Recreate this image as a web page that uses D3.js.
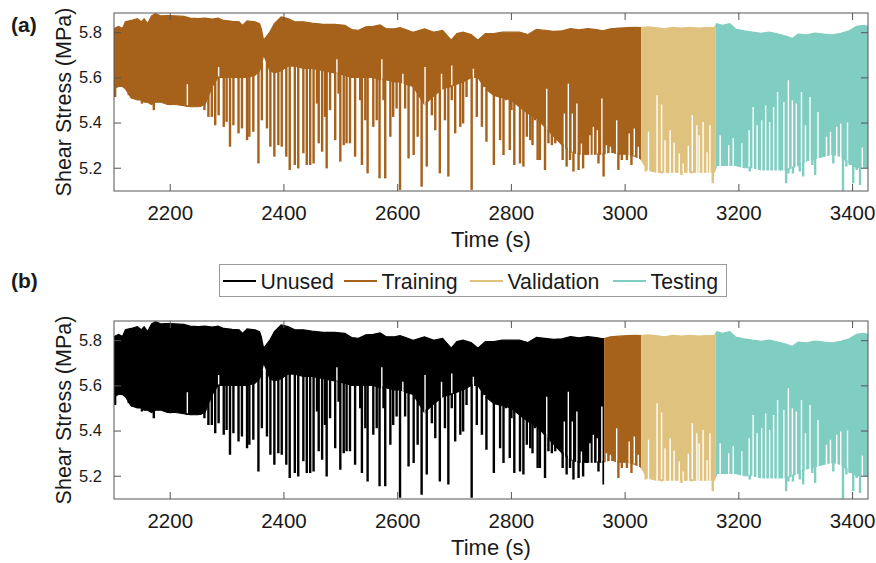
<!DOCTYPE html>
<html>
<head>
<meta charset="utf-8">
<script src="https://cdn.jsdelivr.net/npm/d3@7"></script>
<style>
  body { margin: 0; background: #fff; }
  svg text { font-family: "Liberation Sans", Arial, Helvetica, sans-serif; fill: #1a1a1a; }
</style>
</head>
<body>
<div id="chart"></div>
<script>
const WIDTH = 876
const HEIGHT = 563

// dense stick-slip signal read as a band: time (s), top edge and solid floor (MPa)
const envTime = [
  2102, 2110, 2117, 2122, 2132, 2143, 2150, 2155, 2161, 2168,
  2175, 2185, 2196, 2210, 2225, 2236, 2250, 2262, 2275, 2285,
  2295, 2310, 2322, 2328, 2336, 2350, 2358, 2361, 2365, 2370,
  2376, 2384, 2396, 2408, 2420, 2435, 2450, 2470, 2490, 2508,
  2520, 2532, 2545, 2558, 2570, 2580, 2595, 2605, 2615, 2628,
  2648, 2665, 2680, 2695, 2705, 2716, 2730, 2742, 2755, 2770,
  2785, 2800, 2815, 2830, 2845, 2860, 2875, 2890, 2905, 2920,
  2935, 2950, 2962, 2975, 2990, 3005, 3018, 3028, 3040, 3055,
  3070, 3085, 3100, 3115, 3130, 3145, 3158, 3162, 3172, 3185,
  3195, 3210, 3225, 3240, 3255, 3270, 3285, 3295, 3305, 3320,
  3335, 3350, 3365, 3380, 3395, 3408, 3420, 3428,
]
const envUpper = [
  5.816, 5.826, 5.816, 5.846, 5.852, 5.860, 5.846, 5.860, 5.838, 5.872,
  5.882, 5.872, 5.874, 5.872, 5.870, 5.862, 5.860, 5.862, 5.858, 5.862,
  5.852, 5.848, 5.846, 5.830, 5.850, 5.846, 5.838, 5.816, 5.765, 5.780,
  5.800, 5.838, 5.868, 5.860, 5.846, 5.846, 5.840, 5.835, 5.835, 5.830,
  5.812, 5.808, 5.824, 5.826, 5.832, 5.816, 5.815, 5.820, 5.812, 5.800,
  5.815, 5.800, 5.808, 5.765, 5.794, 5.800, 5.790, 5.765, 5.794, 5.794,
  5.800, 5.800, 5.800, 5.790, 5.812, 5.808, 5.804, 5.806, 5.816, 5.810,
  5.816, 5.812, 5.806, 5.815, 5.818, 5.820, 5.822, 5.820, 5.824, 5.820,
  5.815, 5.822, 5.818, 5.822, 5.818, 5.820, 5.822, 5.838, 5.830, 5.838,
  5.814, 5.806, 5.800, 5.795, 5.800, 5.792, 5.782, 5.772, 5.792, 5.788,
  5.796, 5.792, 5.788, 5.795, 5.806, 5.826, 5.830, 5.826,
]
const envFloor = [
  5.55, 5.56, 5.56, 5.55, 5.51, 5.50, 5.50, 5.49, 5.49, 5.48,
  5.49, 5.49, 5.48, 5.48, 5.475, 5.47, 5.47, 5.48, 5.56, 5.60,
  5.60, 5.60, 5.60, 5.60, 5.60, 5.61, 5.63, 5.65, 5.70, 5.67,
  5.63, 5.62, 5.63, 5.65, 5.65, 5.64, 5.64, 5.63, 5.62, 5.61,
  5.60, 5.60, 5.60, 5.60, 5.59, 5.59, 5.58, 5.58, 5.57, 5.56,
  5.48, 5.52, 5.55, 5.56, 5.57, 5.58, 5.60, 5.60, 5.55, 5.52,
  5.51, 5.50, 5.47, 5.44, 5.42, 5.38, 5.34, 5.30, 5.27, 5.26,
  5.26, 5.26, 5.26, 5.27, 5.26, 5.26, 5.25, 5.24, 5.19, 5.18,
  5.18, 5.18, 5.18, 5.18, 5.18, 5.18, 5.18, 5.21, 5.21, 5.21,
  5.21, 5.20, 5.20, 5.19, 5.19, 5.19, 5.19, 5.20, 5.21, 5.23,
  5.24, 5.25, 5.26, 5.25, 5.22, 5.20, 5.20, 5.20,
]

// slip events that drop below the floor: time (s), lowest stress (MPa)
const spikeTime = [
  2104, 2125, 2128, 2134, 2142, 2151, 2160, 2172, 2180, 2189,
  2201, 2210, 2221, 2230, 2245, 2254, 2261, 2268, 2274, 2280,
  2286, 2295, 2300, 2306, 2312, 2321, 2327, 2336, 2340, 2347,
  2356, 2362, 2371, 2377, 2384, 2391, 2397, 2405, 2411, 2420,
  2426, 2435, 2441, 2447, 2453, 2459, 2462, 2468, 2473, 2476,
  2482, 2491, 2497, 2500, 2506, 2511, 2517, 2526, 2535, 2538,
  2544, 2548, 2558, 2564, 2569, 2576, 2579, 2588, 2593, 2599,
  2605, 2614, 2620, 2629, 2636, 2643, 2652, 2661, 2667, 2675,
  2684, 2690, 2696, 2702, 2711, 2716, 2722, 2731, 2740, 2749,
  2757, 2763, 2770, 2775, 2781, 2787, 2791, 2798, 2801, 2806,
  2810, 2816, 2822, 2828, 2834, 2838, 2842, 2847, 2851, 2857,
  2860, 2866, 2872, 2878, 2883, 2891, 2895, 2898, 2904, 2910,
  2916, 2919, 2927, 2933, 2942, 2948, 2954, 2963, 2974, 2979,
  2986, 2989, 2995, 3004, 3008, 3012, 3018, 3024, 3033, 3037,
  3045, 3052, 3065, 3073, 3077, 3083, 3089, 3094, 3100, 3106,
  3112, 3118, 3124, 3130, 3135, 3141, 3147, 3153, 3155, 3159,
  3163, 3168, 3173, 3179, 3185, 3191, 3197, 3203, 3209, 3214,
  3220, 3225, 3229, 3235, 3241, 3244, 3250, 3255, 3258, 3264,
  3270, 3276, 3280, 3284, 3288, 3291, 3296, 3302, 3308, 3311,
  3314, 3320, 3326, 3330, 3335, 3340, 3346, 3355, 3361, 3367,
  3373, 3378, 3384, 3390, 3396, 3402, 3408, 3414, 3418, 3422,
]
const spikeMin = [
  5.513, 5.572, 5.521, 5.506, 5.513, 5.484, 5.506, 5.455, 5.499, 5.491,
  5.477, 5.484, 5.477, 5.469, 5.477, 5.469, 5.455, 5.425, 5.425, 5.388,
  5.432, 5.381, 5.403, 5.293, 5.388, 5.352, 5.374, 5.322, 5.337, 5.359,
  5.219, 5.410, 5.374, 5.293, 5.249, 5.300, 5.293, 5.249, 5.190, 5.212,
  5.197, 5.264, 5.212, 5.212, 5.219, 5.484, 5.308, 5.271, 5.425, 5.197,
  5.455, 5.322, 5.528, 5.227, 5.300, 5.308, 5.308, 5.249, 5.499, 5.212,
  5.410, 5.175, 5.381, 5.410, 5.153, 5.499, 5.153, 5.337, 5.425, 5.462,
  5.102, 5.462, 5.241, 5.256, 5.337, 5.116, 5.205, 5.432, 5.366, 5.175,
  5.410, 5.161, 5.499, 5.352, 5.381, 5.396, 5.513, 5.102, 5.425, 5.381,
  5.315, 5.543, 5.212, 5.550, 5.322, 5.256, 5.499, 5.278, 5.455, 5.212,
  5.513, 5.219, 5.205, 5.337, 5.322, 5.300, 5.410, 5.234, 5.234, 5.455,
  5.190, 5.308, 5.300, 5.308, 5.337, 5.234, 5.440, 5.205, 5.234, 5.183,
  5.484, 5.190, 5.197, 5.256, 5.352, 5.337, 5.219, 5.161, 5.293, 5.330,
  5.322, 5.190, 5.234, 5.234, 5.352, 5.212, 5.249, 5.249, 5.249, 5.183,
  5.219, 5.234, 5.175, 5.322, 5.183, 5.366, 5.308, 5.219, 5.168, 5.219,
  5.293, 5.175, 5.183, 5.381, 5.183, 5.396, 5.205, 5.308, 5.131, 5.219,
  5.293, 5.219, 5.212, 5.219, 5.234, 5.322, 5.219, 5.249, 5.219, 5.322,
  5.183, 5.469, 5.227, 5.219, 5.410, 5.190, 5.190, 5.469, 5.234, 5.352,
  5.205, 5.249, 5.491, 5.131, 5.175, 5.499, 5.175, 5.484, 5.183, 5.543,
  5.161, 5.352, 5.264, 5.212, 5.168, 5.447, 5.256, 5.264, 5.337, 5.219,
  5.381, 5.293, 5.098, 5.205, 5.212, 5.131, 5.190, 5.124, 5.293, 5.234,
]

// long quiet cycles that leave a white gap in the band: time (s), top of gap (MPa)
const gapTime = [
  2231, 2286, 2494, 2573, 2610, 2649, 2678, 2696, 2734, 2754,
  2863, 2894, 2901, 2908, 2916, 2924, 2939, 2945, 2952, 2960,
  2968, 2975, 2986, 3008, 3017, 3024, 3042, 3057, 3065, 3071,
  3080, 3087, 3096, 3103, 3112, 3119, 3127, 3131, 3138, 3145,
  3150, 3168, 3183, 3191, 3206, 3219, 3226, 3233, 3241, 3248,
  3255, 3262, 3269, 3280, 3288, 3295, 3302, 3311, 3318, 3326,
  3340, 3355, 3362, 3373, 3380, 3392, 3418,
]
const gapTop = [
  5.570, 5.646, 5.680, 5.680, 5.616, 5.646, 5.616, 5.653, 5.638, 5.557,
  5.550, 5.440, 5.572, 5.440, 5.484, 5.307, 5.344, 5.381, 5.366, 5.506,
  5.300, 5.293, 5.410, 5.352, 5.374, 5.293, 5.359, 5.521, 5.480, 5.322,
  5.366, 5.312, 5.263, 5.219, 5.297, 5.432, 5.388, 5.344, 5.403, 5.268,
  5.388, 5.344, 5.300, 5.330, 5.308, 5.366, 5.469, 5.388, 5.410, 5.476,
  5.403, 5.469, 5.535, 5.491, 5.587, 5.499, 5.484, 5.535, 5.388, 5.513,
  5.447, 5.337, 5.359, 5.381, 5.396, 5.400, 5.290,
]

const timeTicks = [2200, 2400, 2600, 2800, 3000, 3200, 3400]
const stressTicks = [5.2, 5.4, 5.6, 5.8]
const timeDomain = [2102, 3428]
const stressDomain = [5.097, 5.885]

const seriesNames = ['Unused', 'Training', 'Validation', 'Testing']
// series i covers [split[i], split[i + 1])
const splitA = [2102, 2102, 3029, 3160, 3428]
const splitB = [2102, 2964, 3029, 3160, 3428]

const COLORS = ['#000000', '#A6611A', '#DFC27D', '#80CDC1']
const PLOT = { left: 114, right: 868, height: 178 }
const PANEL_TOPS = [13, 321]
const LEGEND_X = [223, 344, 470, 613]

const x = d3.scaleLinear().domain(timeDomain).range([PLOT.left, PLOT.right])
const y = d3.scaleLinear().domain(stressDomain).range([PLOT.height, 0])
const floorAt = d3.scaleLinear().domain(envTime).range(envFloor)

function defineSVG (selector) {
  return d3.select(selector)
    .append('svg')
    .attr('width', WIDTH)
    .attr('height', HEIGHT)
}

function drawSignal (params) {
  const { g, split, id } = params
  const idx = d3.range(envTime.length)
  const area = d3.area()
    .x(i => x(envTime[i]))
    .y0(i => y(envFloor[i]))
    .y1(i => y(envUpper[i]))

  seriesNames.forEach((name, s) => {
    const t0 = split[s]
    const t1 = split[s + 1]
    if (t1 <= t0) return
    const inRange = t => t >= t0 && t < t1
    const clipId = `clip-${id}-${s}`
    g.append('clipPath')
      .attr('id', clipId)
      .append('rect')
      .attr('x', x(t0))
      .attr('y', -2)
      .attr('width', x(t1) - x(t0))
      .attr('height', PLOT.height + 4)

    const layer = g.append('g')
      .attr('class', `series ${name}`)
      .attr('clip-path', `url(#${clipId})`)

    layer.append('path')
      .datum(idx)
      .attr('d', area)
      .attr('fill', COLORS[s])
      .attr('stroke', COLORS[s])
      .attr('stroke-width', 1.2)

    const gaps = d3.range(gapTime.length)
      .filter(i => inRange(gapTime[i]) && gapTop[i] > floorAt(gapTime[i]))
    layer.selectAll('line.gap')
      .data(gaps)
      .enter()
      .append('line')
      .attr('class', 'gap')
      .attr('x1', i => x(gapTime[i]))
      .attr('x2', i => x(gapTime[i]))
      .attr('y1', i => y(gapTop[i]))
      .attr('y2', i => y(floorAt(gapTime[i])) + 1.5)
      .attr('stroke', '#fff')
      .attr('stroke-width', 1.4)

    const spikes = d3.range(spikeTime.length)
      .filter(i => inRange(spikeTime[i]) && spikeMin[i] < floorAt(spikeTime[i]))
    layer.selectAll('line.spike')
      .data(spikes)
      .enter()
      .append('line')
      .attr('class', 'spike')
      .attr('x1', i => x(spikeTime[i]))
      .attr('x2', i => x(spikeTime[i]))
      .attr('y1', i => y(floorAt(spikeTime[i])) - 1)
      .attr('y2', i => y(spikeMin[i]))
      .attr('stroke', COLORS[s])
      .attr('stroke-width', 2.4)
  })
}

function styleAxis (sel, size) {
  sel.attr('font-family', null).attr('font-size', null)
  sel.select('.domain').remove()
  sel.selectAll('.tick line').attr('stroke', '#555')
  sel.selectAll('.tick text').style('font-size', size)
}

function drawAxes (g) {
  g.append('g')
    .attr('transform', `translate(0,${PLOT.height})`)
    .call(d3.axisBottom(x).tickValues(timeTicks).tickSizeInner(-7).tickSizeOuter(0)
      .tickPadding(14).tickFormat(d3.format('d')))
    .call(sel => styleAxis(sel, '20.5px'))

  g.append('g')
    .call(d3.axisTop(x).tickValues(timeTicks).tickSizeInner(-7).tickSizeOuter(0).tickFormat(''))
    .call(sel => styleAxis(sel, '1px'))

  g.append('g')
    .attr('transform', `translate(${PLOT.left},0)`)
    .call(d3.axisLeft(y).tickValues(stressTicks).tickSizeInner(-7).tickSizeOuter(0)
      .tickPadding(12).tickFormat(d3.format('.1f')))
    .call(sel => styleAxis(sel, '16.5px'))

  g.append('g')
    .attr('transform', `translate(${PLOT.right},0)`)
    .call(d3.axisRight(y).tickValues(stressTicks).tickSizeInner(-7).tickSizeOuter(0).tickFormat(''))
    .call(sel => styleAxis(sel, '1px'))

  g.append('rect')
    .attr('x', PLOT.left)
    .attr('y', 0)
    .attr('width', PLOT.right - PLOT.left)
    .attr('height', PLOT.height)
    .attr('fill', 'none')
    .attr('stroke', '#555')
    .attr('stroke-width', 1)

  g.append('text')
    .attr('x', (PLOT.left + PLOT.right) / 2)
    .attr('y', PLOT.height + 56)
    .attr('text-anchor', 'middle')
    .style('font-size', '22px')
    .text('Time (s)')

  g.append('text')
    .attr('transform', `translate(71,${PLOT.height / 2}) rotate(-90)`)
    .attr('text-anchor', 'middle')
    .style('font-size', '21.5px')
    .text('Shear Stress (MPa)')
}

function drawPanel (params) {
  const { svg, top, split, id } = params
  const g = svg.append('g')
    .attr('class', `panel ${id}`)
    .attr('transform', `translate(0,${top})`)
  drawSignal({ g, split, id })
  drawAxes(g)
  return g
}

function drawLegend (svg) {
  const legend = svg.append('g').attr('class', 'legend')
  legend.append('rect')
    .attr('x', 219.5)
    .attr('y', 264.5)
    .attr('width', 507)
    .attr('height', 32)
    .attr('fill', '#fff')
    .attr('stroke', '#9a9a9a')
    .attr('stroke-width', 1)

  const items = legend.selectAll('g.item')
    .data(seriesNames)
    .enter()
    .append('g')
    .attr('class', 'item')
    .attr('transform', (d, i) => `translate(${LEGEND_X[i]},281)`)

  items.append('line')
    .attr('x1', 0)
    .attr('x2', 33)
    .attr('stroke', (d, i) => COLORS[i])
    .attr('stroke-width', 1.8)

  items.append('text')
    .attr('x', 37.5)
    .attr('y', 7.5)
    .style('font-size', '21.3px')
    .text(d => d)
}

const svg = defineSVG('#chart')

drawPanel({ svg, top: PANEL_TOPS[0], split: splitA, id: 'a' })
drawPanel({ svg, top: PANEL_TOPS[1], split: splitB, id: 'b' })
drawLegend(svg)

svg.append('text')
  .attr('x', 11)
  .attr('y', 32)
  .style('font-size', '21px')
  .style('font-weight', 'bold')
  .text('(a)')

svg.append('text')
  .attr('x', 11)
  .attr('y', 288)
  .style('font-size', '21px')
  .style('font-weight', 'bold')
  .text('(b)')
</script>
</body>
</html>
